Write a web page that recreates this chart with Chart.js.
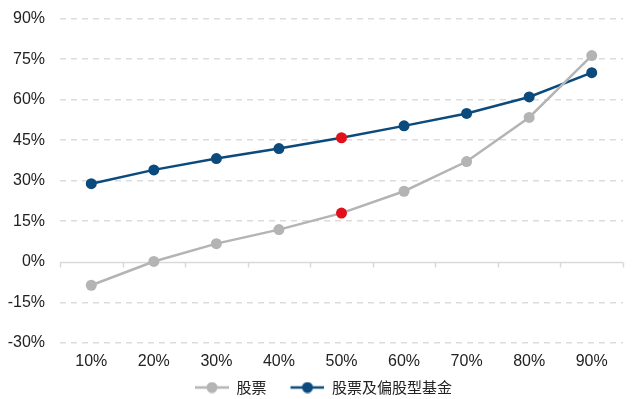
<!DOCTYPE html>
<html>
<head>
<meta charset="utf-8">
<script src="https://cdn.jsdelivr.net/npm/chart.js@4/dist/chart.umd.min.js"></script>
<style>
  html, body { margin: 0; padding: 0; background: #fff; }
  #wrap { width: 636px; height: 399px; }
</style>
</head>
<body>
<div id="wrap"><canvas id="chart"></canvas></div>
<script>
// 分位数 / 收益
const categories = ['10%', '20%', '30%', '40%', '50%', '60%', '70%', '80%', '90%'];
const stockValues = [-8.7, 0.1, 6.7, 11.9, 18.0, 26.1, 37.1, 53.4, 76.3];
const fundValues = [28.9, 34.0, 38.2, 41.9, 45.9, 50.3, 54.9, 61.0, 70.0];
const seriesNames = ['股票', '股票及偏股型基金'];
const yTicks = [-30, -15, 0, 15, 30, 45, 60, 75, 90];
const highlightIndex = 4;

const GRAY = '#b4b4b4';
const BLUE = '#0b4a7c';
const RED = '#e3101c';
const AXIS = '#d9d9d9';

// legend icon: blank lead-in (item gap), then line with dot in the middle
function legendIcon(color) {
  const c = document.createElement('canvas');
  c.width = 58; c.height = 12;
  const g = c.getContext('2d');
  g.strokeStyle = color; g.lineWidth = 2.5;
  g.beginPath(); g.moveTo(24, 6); g.lineTo(58, 6); g.stroke();
  g.fillStyle = color;
  g.beginPath(); g.arc(41, 6, 5.5, 0, Math.PI * 2); g.fill();
  return c;
}

function pointColors(base) {
  return categories.map((_, i) => i === highlightIndex ? RED : base);
}

// solid axis line at 0 with small ticks between categories
const zeroAxis = {
  id: 'zeroAxis',
  beforeDatasetsDraw(chart) {
    const { ctx, chartArea, scales: { x, y } } = chart;
    const y0 = Math.round(y.getPixelForValue(0)) + 0.5;
    ctx.save();
    ctx.strokeStyle = AXIS;
    ctx.lineWidth = 1.5;
    ctx.beginPath();
    ctx.moveTo(chartArea.left, y0);
    ctx.lineTo(chartArea.right, y0);
    for (let i = 0; i <= categories.length; i++) {
      const px = Math.round(x.getPixelForValue(i - 0.5)) + 0.5;
      ctx.moveTo(px, y0);
      ctx.lineTo(px, y0 + 5);
    }
    ctx.stroke();
    ctx.restore();
  },
};

new Chart(document.getElementById('chart'), {
  type: 'line',
  data: {
    labels: categories,
    datasets: [
      {
        label: seriesNames[0], data: stockValues,
        borderColor: GRAY, backgroundColor: GRAY, borderWidth: 2.5,
        pointBackgroundColor: pointColors(GRAY), pointBorderWidth: 0,
        pointRadius: 5.5, pointHoverRadius: 5.5, tension: 0,
      },
      {
        label: seriesNames[1], data: fundValues,
        borderColor: BLUE, backgroundColor: BLUE, borderWidth: 2.5,
        pointBackgroundColor: pointColors(BLUE), pointBorderWidth: 0,
        pointRadius: 5.5, pointHoverRadius: 5.5, tension: 0,
      },
    ],
  },
  plugins: [zeroAxis],
  options: {
    responsive: true,
    maintainAspectRatio: false,
    animation: false,
    layout: { autoPadding: false, padding: { top: 0, right: 13, left: 0, bottom: -6 } },
    plugins: {
      tooltip: { enabled: false },
      legend: {
        position: 'bottom',
        labels: {
          usePointStyle: true,
          pointStyleWidth: 58,
          padding: 0,
          color: '#222',
          font: { family: '"Noto Sans CJK SC"', size: 15 },
          generateLabels(chart) {
            const items = Chart.defaults.plugins.legend.labels.generateLabels(chart);
            items.forEach((it, i) => { it.pointStyle = legendIcon(i === 0 ? GRAY : BLUE); });
            return items;
          },
        },
      },
    },
    scales: {
      x: {
        offset: true,
        grid: { display: false, drawTicks: false },
        border: { display: false },
        ticks: { color: '#222', padding: 9, font: { family: '"Liberation Sans", Arial', size: 16 } },
      },
      y: {
        min: -30, max: 90,
        afterBuildTicks(scale) { scale.ticks = yTicks.map(v => ({ value: v })); },
        afterFit(scale) { scale.width = 60; },
        grid: {
          color: ctx => ctx.tick && ctx.tick.value === 0 ? 'rgba(0,0,0,0)' : '#dcdcdc',
          lineWidth: 1.5, drawTicks: true, tickLength: 6, tickColor: 'rgba(0,0,0,0)',
        },
        border: { display: false, dash: [6, 5] },
        ticks: {
          color: '#222', padding: 9,
          font: { family: '"Liberation Sans", Arial', size: 16 },
          callback: v => v + '%',
        },
      },
    },
  },
});
</script>
</body>
</html>
